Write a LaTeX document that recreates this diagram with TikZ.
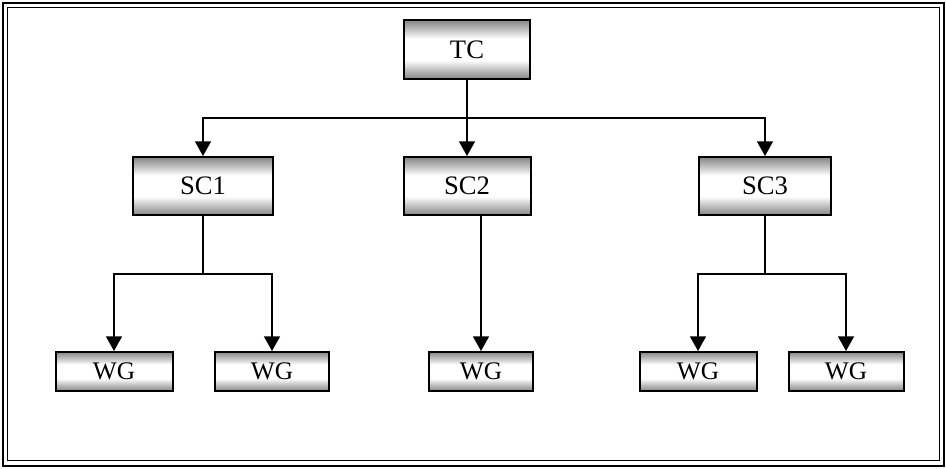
\documentclass[tikz,border=0pt]{standalone}
\usepackage{fontspec}
\setmainfont{Liberation Serif}
\usetikzlibrary{arrows.meta}

\pgfdeclareverticalshading{boxshade}{100bp}{color(0bp)=(gray!95); color(25bp)=(gray!95); color(32bp)=(gray!55); color(41bp)=(white); color(59bp)=(white); color(68bp)=(gray!55); color(75bp)=(gray!95); color(100bp)=(gray!95)}

\tikzset{every picture/.style={line width=0.75pt}}
\tikzset{
box/.style={draw, line width=1.5pt, shading=boxshade, inner sep=0pt, minimum height=43.5pt, font=\fontsize{20}{24}\selectfont},
wgbox/.style={box, minimum height=29.25pt, font=\fontsize{19}{22}\selectfont},
link/.style={line width=1.1pt},
arrow/.style={link, -{Triangle[width=12pt,length=11pt]}}}

\begin{document}
\begin{tikzpicture}[x=0.75pt,y=0.75pt,yscale=-1,xscale=1]
\useasboundingbox (0,0) rectangle (946,468);

%Frame
\draw [line width=1.5pt] (2.5,2.5) rectangle (943.5,465.5) ;
\draw [line width=0.75pt] (7,7) rectangle (939,460) ;

% Top level
\node [box, minimum width=94.5pt, minimum height=44.25pt] (tc) at (467,49.5) {TC};

% Second level
\node [box, minimum width=105pt] (sc1) at (203,186) {SC1};
\node [box, minimum width=95.25pt] (sc2) at (467,186) {SC2};
\node [box, minimum width=99pt] (sc3) at (765,186) {SC3};

% Third level
\node [wgbox, minimum width=87.75pt] (wg1) at (114,371.5) {WG};
\node [wgbox, minimum width=85.5pt] (wg2) at (272,371.5) {WG};
\node [wgbox, minimum width=78pt] (wg3) at (481,371.5) {WG};
\node [wgbox, minimum width=87.75pt] (wg4) at (698,371.5) {WG};
\node [wgbox, minimum width=86.25pt] (wg5) at (846,371.5) {WG};

%Junctions
\coordinate (jt) at (467,118);
\coordinate (j1) at (203,274);
\coordinate (j3) at (765,274);

%Straight Lines
\draw [link] (tc.south) -- (jt) ;
\draw [arrow] (jt) -| (sc1.north) ;
\draw [arrow] (jt) -- (sc2.north) ;
\draw [arrow] (jt) -| (sc3.north) ;

\draw [link] (sc1.south) -- (j1) ;
\draw [arrow] (j1) -| (wg1.north) ;
\draw [arrow] (j1) -| (wg2.north) ;

\draw [arrow] (sc2.south -| wg3.north) -- (wg3.north) ;

\draw [link] (sc3.south) -- (j3) ;
\draw [arrow] (j3) -| (wg4.north) ;
\draw [arrow] (j3) -| (wg5.north) ;

\end{tikzpicture}
\end{document}
